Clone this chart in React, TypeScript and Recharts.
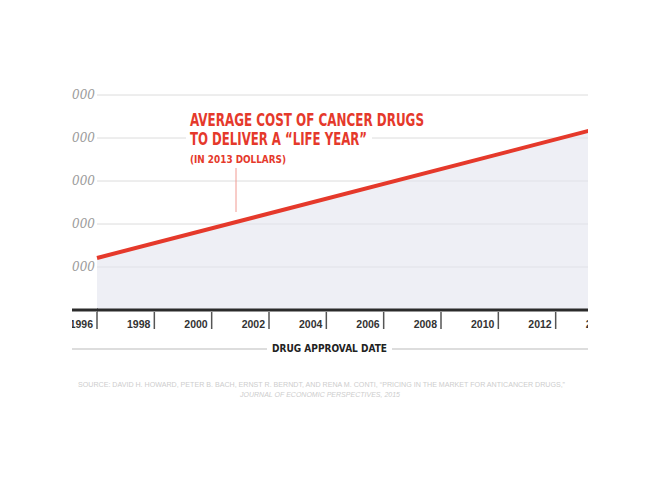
import React from 'react'
import { AreaChart, Area, XAxis, YAxis, CartesianGrid } from 'recharts'

// trend line (endpoints of the straight line)
const years = [1996, 2014]
const costs = [60500, 215600]

const yearTicks = [1996, 1998, 2000, 2002, 2004, 2006, 2008, 2010, 2012, 2014]
const costTicks = [50000, 100000, 150000, 200000, 250000]
const costLabels = ['$50,000', '$100,000', '$150,000', '$200,000', '$250,000']

const titleLines = ['AVERAGE COST OF CANCER DRUGS', 'TO DELIVER A \u201CLIFE YEAR\u201D']
const subtitle = '(IN 2013 DOLLARS)'
const axisTitle = 'DRUG APPROVAL DATE'
const sourceLine1 =
  'SOURCE: DAVID H. HOWARD, PETER B. BACH, ERNST R. BERNDT, AND RENA M. CONTI, \u201CPRICING IN THE MARKET FOR ANTICANCER DRUGS,\u201D'
const sourceLine2 = 'JOURNAL OF ECONOMIC PERSPECTIVES, 2015'

const RED = '#e5392b'
const condensed = "'Liberation Sans Narrow', 'DejaVu Sans Condensed', 'Liberation Sans', Arial, sans-serif"

const data = years.map((year, i) => ({ year, cost: costs[i] }))

function YearTick({ x, y, payload }: any) {
  return (
    <g>
      <line x1={x} y1={y + 2} x2={x} y2={y + 19} stroke="#555" strokeWidth={1.5} />
      <text
        x={x - 4}
        y={y + 18}
        textAnchor="end"
        fontSize={10.5}
        fontWeight="bold"
        fill="#333"
        fontFamily="'Liberation Sans', Arial, sans-serif"
      >
        {payload.value}
      </text>
    </g>
  )
}

function CostTick({ x, y, payload }: any) {
  const i = costTicks.indexOf(payload.value)
  return (
    <text
      x={x}
      y={y + 4}
      textAnchor="end"
      fontSize={12}
      fontStyle="italic"
      fill="#9c9c9c"
      fontFamily="'DejaVu Serif', 'Liberation Serif', serif"
    >
      {costLabels[i]}
    </text>
  )
}

export default function App() {
  return (
    <div style={{ position: 'relative', width: 644, height: 480 }}>
      {/* the picture is a crop: clip the chart left and right */}
      <div style={{ position: 'absolute', left: 64, top: 0, width: 516, height: 480, overflow: 'hidden' }}>
        <div style={{ position: 'absolute', left: -64, top: 0 }}>
          <AreaChart width={620} height={480} data={data} margin={{ top: 87, right: 15, bottom: 138, left: 0 }}>
            <CartesianGrid vertical={false} stroke="#dcdcdc" />
            <XAxis
              dataKey="year"
              type="number"
              domain={[1996, 2014]}
              ticks={yearTicks}
              height={40}
              tickSize={0}
              tickMargin={0}
              tickLine={false}
              axisLine={{ stroke: '#2b2b2b', strokeWidth: 3 }}
              tick={<YearTick />}
              interval={0}
            />
            <YAxis
              type="number"
              domain={[0, 250000]}
              ticks={costTicks}
              width={89}
              tickSize={0}
              tickMargin={2}
              tickLine={false}
              axisLine={false}
              tick={<CostTick />}
              interval={0}
            />
            <Area
              type="linear"
              dataKey="cost"
              stroke={RED}
              strokeWidth={4}
              fill="#e2e5ee"
              fillOpacity={0.6}
              dot={false}
              activeDot={false}
              isAnimationActive={false}
            />
          </AreaChart>
        </div>
      </div>

      <svg width={644} height={480} style={{ position: 'absolute', left: 0, top: 0, pointerEvents: 'none' }}>
        {/* axis line continues to the crop edge */}
        <line x1={64} y1={302} x2={90} y2={302} stroke="#2b2b2b" strokeWidth={3} />

        {/* annotation */}
        <rect x={178} y={101} width={242} height={22} fill="#fff" />
        <rect x={178} y={123} width={186} height={36} fill="#fff" />
        <g fill={RED} fontFamily={condensed} fontWeight="bold">
          <text x={182} y={118} fontSize={18} textLength={234} lengthAdjust="spacingAndGlyphs">
            {titleLines[0]}
          </text>
          <text x={182} y={137} fontSize={18} textLength={177} lengthAdjust="spacingAndGlyphs">
            {titleLines[1]}
          </text>
          <text x={182} y={154.5} fontSize={11} textLength={96} lengthAdjust="spacingAndGlyphs">
            {subtitle}
          </text>
        </g>
        <line x1={228} y1={160} x2={228} y2={204} stroke="#f19a92" strokeWidth={1} />

        {/* axis title */}
        <line x1={64} y1={341} x2={259} y2={341} stroke="#bbb" strokeWidth={1} />
        <line x1={384} y1={341} x2={580} y2={341} stroke="#bbb" strokeWidth={1} />
        <text
          x={264}
          y={344}
          fontSize={11}
          fontWeight="bold"
          fill="#222"
          fontFamily={condensed}
          textLength={115}
          lengthAdjust="spacingAndGlyphs"
        >
          {axisTitle}
        </text>

        {/* source */}
        <g fill="#cdcdcd" fontFamily="'Liberation Sans', Arial, sans-serif" fontSize={6.5}>
          <text x={70} y={379} textLength={487} lengthAdjust="spacingAndGlyphs">
            {sourceLine1}
          </text>
          <text x={232} y={389} fontStyle="italic" textLength={160} lengthAdjust="spacingAndGlyphs">
            {sourceLine2}
          </text>
        </g>
      </svg>
    </div>
  )
}
